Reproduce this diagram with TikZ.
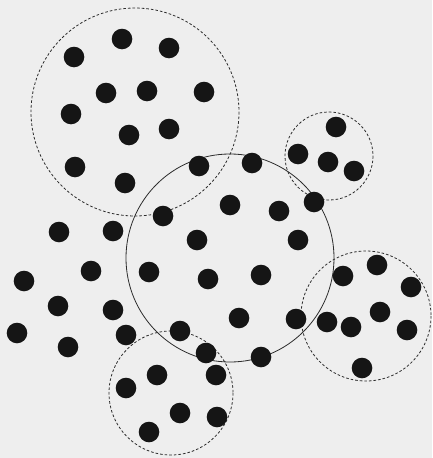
\documentclass[tikz,border=0pt]{standalone}
\definecolor{paper}{HTML}{EEEEEE}
\definecolor{ink}{HTML}{151515}
\begin{document}
\begin{tikzpicture}[x=1pt,y=-1pt,
  dot/.style={fill=ink},
  dashring/.style={draw=ink!90,line width=0.8pt,dash pattern=on 2.6pt off 2pt},
  solidring/.style={draw=ink!90,line width=0.8pt}]
\fill[paper] (0,0) rectangle (432,458);
\useasboundingbox (0,0) rectangle (432,458);
% circles
\draw[dashring] (135,112) circle[radius=104];
\draw[dashring] (329,156) circle[radius=44];
\draw[solidring] (230,258) circle[radius=104];
\draw[dashring] (366,316) circle[radius=65];
\draw[dashring] (171,393) circle[radius=62];
% dots
\foreach \p in {(122,39),(169,48),(74,57),(106,93),(147,91),(204,92),(71,114),
  (129,135),(169,129),(75,167),(125,183),(199,166),(163,216),(59,232),(113,231),
  (336,127),(298,154),(328,162),(354,171),(252,163),(230,205),(279,211),(314,202),
  (197,240),(298,240),(91,271),(24,281),(149,272),(208,279),(261,275),(58,306),
  (113,310),(17,333),(126,335),(68,347),(180,331),(206,353),(157,375),(126,388),
  (216,375),(180,413),(217,417),(149,432),(239,318),(343,276),(377,265),(411,287),
  (296,319),(327,322),(351,327),(380,312),(407,330),(261,357),(362,368)}
  \fill[dot] \p circle[radius=10.3];
\end{tikzpicture}
\end{document}
